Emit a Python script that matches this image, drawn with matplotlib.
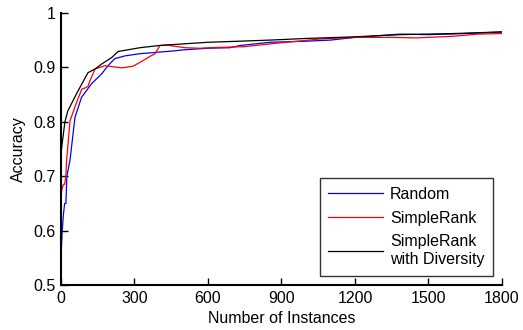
import matplotlib
matplotlib.use("Agg")
import matplotlib.pyplot as plt

plt.rcParams['font.family'] = ['Liberation Sans', 'DejaVu Sans']

x_random = [0, 5, 10, 15, 20, 24, 37, 57, 84, 125, 166, 192, 220, 261, 322, 457, 498,
            596, 690, 730, 853, 1000, 1100, 1200, 1384, 1500, 1650, 1800]
y_random = [0.55, 0.60, 0.63, 0.65, 0.65, 0.70, 0.73, 0.808, 0.845, 0.87, 0.888, 0.903,
            0.916, 0.921, 0.925, 0.930, 0.932, 0.935, 0.936, 0.940, 0.946, 0.948, 0.950,
            0.955, 0.961, 0.960, 0.962, 0.965]

x_simple = [0, 3, 10, 15, 20, 23, 37, 64, 85, 98, 110, 118, 139, 180, 248, 294, 322, 363,
            384, 404, 430, 506, 567, 608, 750, 853, 1057, 1200, 1343, 1450, 1600, 1700, 1800]
y_simple = [0.655, 0.675, 0.685, 0.685, 0.70, 0.73, 0.802, 0.836, 0.86, 0.862, 0.865, 0.875,
            0.897, 0.903, 0.899, 0.902, 0.909, 0.92, 0.925, 0.940, 0.941, 0.936, 0.935, 0.936,
            0.938, 0.943, 0.952, 0.955, 0.955, 0.954, 0.957, 0.961, 0.962]

x_div = [0, 3, 16, 28, 64, 110, 139, 166, 207, 233, 322, 400, 498, 600, 730, 853, 1000,
         1200, 1384, 1600, 1800]
y_div = [0.74, 0.753, 0.80, 0.82, 0.852, 0.89, 0.897, 0.906, 0.918, 0.929, 0.936, 0.94,
         0.943, 0.946, 0.948, 0.950, 0.953, 0.956, 0.960, 0.962, 0.965]

labels = ['Random', 'SimpleRank', 'SimpleRank\nwith Diversity']
x_ticks = [0, 300, 600, 900, 1200, 1500, 1800]
y_ticks = [0.5, 0.6, 0.7, 0.8, 0.9, 1.0]
y_ticklabels = ['0.5', '0.6', '0.7', '0.8', '0.9', '1']

fs = 11.5
fig = plt.figure(figsize=(5.23, 3.30), dpi=100)
ax = fig.add_axes([0.1166, 0.136, 0.8432, 0.825])

ax.plot(x_random, y_random, color='#0000ff', lw=0.9, label=labels[0])
ax.plot(x_simple, y_simple, color='#ff0000', lw=0.9, label=labels[1])
ax.plot(x_div, y_div, color='#000000', lw=0.9, label=labels[2])

ax.set_xlim(0, 1800)
ax.set_ylim(0.5, 1.0)
ax.set_xticks(x_ticks)
ax.set_yticks(y_ticks)
ax.set_yticklabels(y_ticklabels)
for s in ['top', 'right']:
    ax.spines[s].set_visible(False)
for s in ['left', 'bottom']:
    ax.spines[s].set_linewidth(1.5)
ax.tick_params(direction='in', length=5, width=1, labelsize=fs, pad=4)
ax.set_xlabel('Number of Instances', fontsize=fs, labelpad=4)
ax.set_ylabel('Accuracy', fontsize=fs, labelpad=5)

leg = ax.legend(loc='lower right', bbox_to_anchor=(0.98, 0.035), fontsize=fs,
                frameon=True, fancybox=False, edgecolor='black', handlelength=3.4,
                borderpad=0.55, labelspacing=0.55, handletextpad=0.45, borderaxespad=0)
leg.get_frame().set_linewidth(1.0)

fig.savefig('out.png', dpi=100)
